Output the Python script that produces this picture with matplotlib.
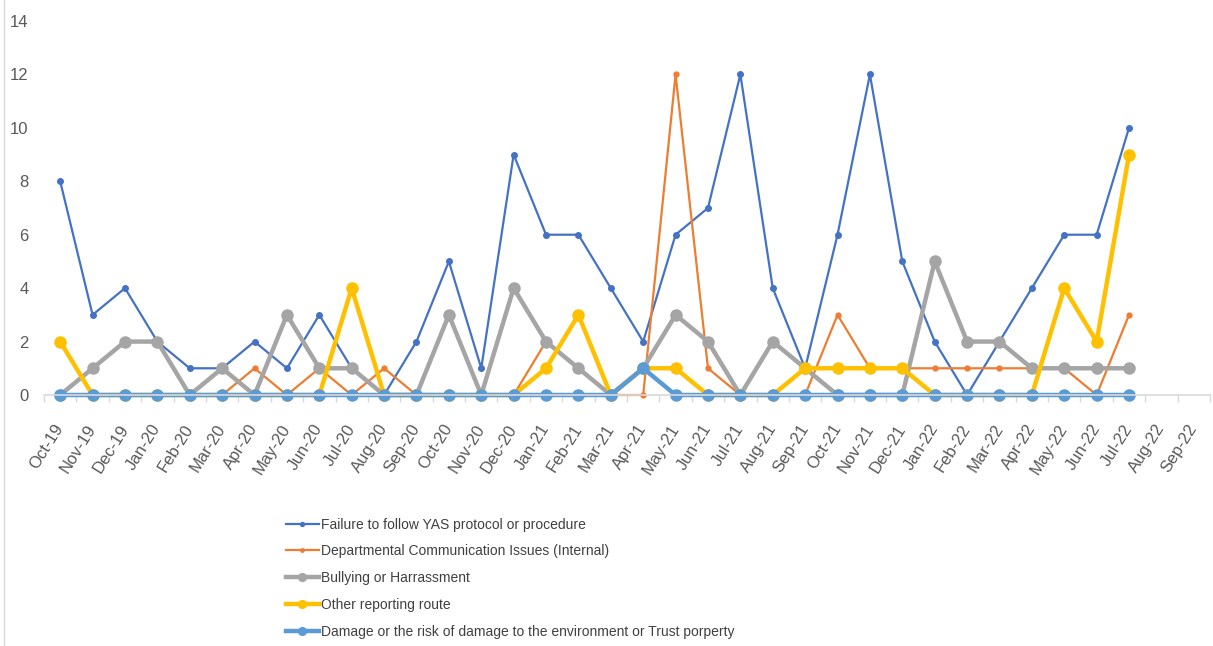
import numpy as np
import matplotlib
matplotlib.use("Agg")
import matplotlib.pyplot as plt
from matplotlib.lines import Line2D

plt.rcParams['font.family'] = ['Liberation Sans', 'DejaVu Sans']

months = ["Oct-19", "Nov-19", "Dec-19", "Jan-20", "Feb-20", "Mar-20", "Apr-20", "May-20",
          "Jun-20", "Jul-20", "Aug-20", "Sep-20", "Oct-20", "Nov-20", "Dec-20", "Jan-21",
          "Feb-21", "Mar-21", "Apr-21", "May-21", "Jun-21", "Jul-21", "Aug-21", "Sep-21",
          "Oct-21", "Nov-21", "Dec-21", "Jan-22", "Feb-22", "Mar-22", "Apr-22", "May-22",
          "Jun-22", "Jul-22", "Aug-22", "Sep-22"]

failure = [8, 3, 4, 2, 1, 1, 2, 1, 3, 1, 0, 2, 5, 1, 9, 6, 6, 4, 2, 6, 7, 12, 4, 1,
           6, 12, 5, 2, 0, 2, 4, 6, 6, 10]
departmental = [0, 0, 0, 0, 0, 0, 1, 0, 1, 0, 1, 0, 0, 0, 0, 2, 1, 0, 0, 12, 1, 0, 0, 0,
                3, 1, 1, 1, 1, 1, 1, 1, 0, 3]
bullying = [0, 1, 2, 2, 0, 1, 0, 3, 1, 1, 0, 0, 3, 0, 4, 2, 1, 0, 1, 3, 2, 0, 2, 1,
            0, 0, 0, 5, 2, 2, 1, 1, 1, 1]
other_route = [2, 0, 0, 0, 0, 0, 0, 0, 0, 4, 0, 0, 0, 0, 0, 1, 3, 0, 1, 1, 0, 0, 0, 1,
               1, 1, 1, 0, 0, 0, 0, 4, 2, 9]
damage = [0, 0, 0, 0, 0, 0, 0, 0, 0, 0, 0, 0, 0, 0, 0, 0, 0, 0, 1, 0, 0, 0, 0, 0,
          0, 0, 0, 0, 0, 0, 0, 0, 0, 0]

series = [
    ("Failure to follow YAS protocol or procedure", failure, "#4472C4", 1.6, 4),
    ("Departmental Communication Issues (Internal)", departmental, "#ED7D31", 1.6, 3.5),
    ("Bullying or Harrassment", bullying, "#A5A5A5", 3.2, 8),
    ("Other reporting route", other_route, "#FFC000", 3.2, 8),
    ("Damage or the risk of damage to the environment or Trust porperty", damage, "#5B9BD5", 3.2, 8),
]

fig = plt.figure(figsize=(12.13, 6.46), dpi=100)
ax = fig.add_axes([44/1213, 251/646, 1166/1213, 374/646])

x = np.arange(len(months))
handles = []
for name, vals, color, lw, ms in series:
    v = np.array(vals + [np.nan] * (len(months) - len(vals)), dtype=float)
    ax.plot(x, v, color=color, lw=lw, marker='o', ms=ms, solid_joinstyle='round',
            solid_capstyle='round', clip_on=False)
    handles.append(Line2D([], [], color=color, lw=lw, marker='o', ms=ms * 0.7, label=name))

ax.set_xlim(-0.5, len(months) - 0.5)
ax.set_ylim(0, 14)
ax.set_yticks(range(0, 15, 2))
ax.set_xticks(x)
ax.set_xticklabels(months, rotation=58, ha='right', va='center', rotation_mode='anchor',
                   fontsize=12, color='#595959')
ax.set_xticks(np.arange(-0.5, len(months), 1), minor=True)
ax.tick_params(axis='x', which='major', length=0, pad=22)
ax.tick_params(axis='x', which='minor', length=5, color='#D9D9D9', width=1)
ax.tick_params(axis='y', length=0, pad=11, labelsize=12, labelcolor='#595959')

for s in ['top', 'right', 'left']:
    ax.spines[s].set_visible(False)
ax.spines['bottom'].set_color('#D9D9D9')
ax.spines['bottom'].set_linewidth(1.2)
ax.set_zorder(1)

# chart border line on the left
fig.add_artist(Line2D([4/1213, 4/1213], [0, 1], transform=fig.transFigure, color='#D9D9D9', lw=1))

fig.legend(handles=handles, loc='upper left', bbox_to_anchor=(280/1213, 1 - 512/646),
           frameon=False, fontsize=10, handlelength=2.4, handletextpad=0.15,
           labelspacing=0.92, borderaxespad=0, labelcolor='#404040')

fig.savefig("out.png", dpi=100)
